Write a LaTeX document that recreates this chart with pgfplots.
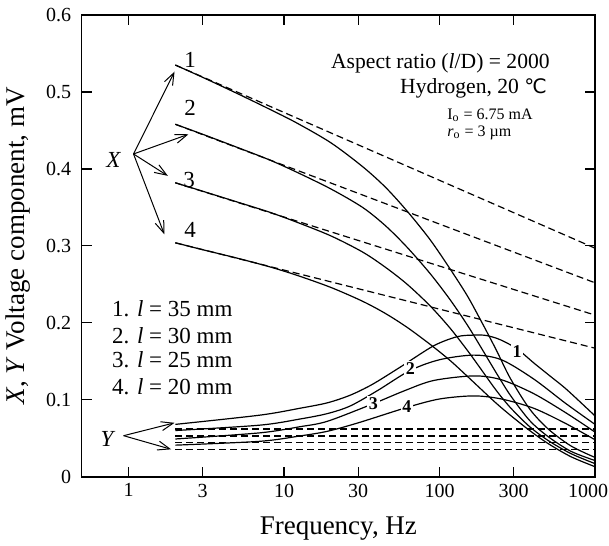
\documentclass[border=0pt]{standalone}
\usepackage{fontspec}
\setmainfont{Liberation Serif}
\newfontfamily\dejavu{DejaVu Sans}
\usepackage{pgfplots}
\pgfplotsset{compat=1.18}
\usetikzlibrary{arrows.meta}
\begin{document}
\begin{tikzpicture}
\begin{axis}[
  at={(0,0)}, anchor=south west,
  scale only axis, width=256.65pt, height=230.85pt,
  xmode=log, xmin=0.5, xmax=1000, ymin=0, ymax=0.6,
  xtick={1,3,10,30,100,300,1000}, xticklabels={1,3,10,30,100,300,\hspace*{-7pt}1000},
  ytick={0,0.1,0.2,0.3,0.4,0.5,0.6}, yticklabels={0,0.1,0.2,0.3,0.4,0.5,0.6},
  xminorticks=false, yminorticks=false,
  tick align=inside, major tick length=5pt,
  axis line style={line width=0.8pt},
  major tick style={line width=0.6pt, black},
  tick label style={font=\fontsize{10}{12}\selectfont},
  yticklabel style={xshift=-1.7pt},
  label style={font=\fontsize{13.5}{16}\selectfont},
  xlabel={Frequency, Hz},
  ylabel={\textit{X}, \textit{Y} Voltage component, mV},
  xlabel style={at={(axis description cs:0.5,0)}, anchor=center, yshift=-25.7pt},
  ylabel style={at={(axis description cs:0,0.5)}, anchor=center, yshift=31.7pt},
  clip=false,
  every axis plot/.append style={line width=0.6pt, black},
  xd/.style={dash pattern=on 3.5pt off 2pt},
]
% X (solid)
\addplot[smooth, tension=0.5] coordinates {(2,0.535)(3,0.519)(5,0.498)(8,0.478)(12,0.460)(20,0.434)(32,0.403)(45,0.376)(62,0.345)(87,0.308)(117,0.270)(150,0.236)(180,0.207)(230,0.166)(285,0.128)(380,0.088)(500,0.062)(700,0.040)(1000,0.025)};
\addplot[smooth, tension=0.5] coordinates {(2,0.458)(3,0.445)(5,0.428)(8,0.412)(12,0.396)(20,0.374)(32,0.350)(45,0.326)(62,0.298)(87,0.264)(117,0.230)(150,0.198)(180,0.172)(230,0.136)(285,0.106)(380,0.073)(500,0.052)(700,0.033)(1000,0.021)};
\addplot[smooth, tension=0.5] coordinates {(2,0.382)(3,0.371)(5,0.357)(8,0.344)(12,0.331)(20,0.313)(32,0.292)(45,0.272)(62,0.250)(87,0.222)(117,0.193)(150,0.165)(180,0.143)(230,0.113)(285,0.090)(380,0.065)(500,0.047)(700,0.030)(1000,0.017)};
\addplot[smooth, tension=0.5] coordinates {(2,0.304)(3,0.295)(5,0.284)(8,0.273)(12,0.262)(20,0.246)(32,0.228)(45,0.212)(62,0.194)(87,0.172)(117,0.151)(150,0.131)(180,0.116)(230,0.096)(285,0.080)(380,0.060)(500,0.043)(700,0.026)(1000,0.013)};
% X (dashed)
\addplot[xd] coordinates {(2,0.535)(1000,0.297)};
\addplot[xd] coordinates {(2,0.458)(1000,0.252)};
\addplot[xd] coordinates {(2,0.382)(1000,0.210)};
\addplot[xd] coordinates {(2,0.304)(1000,0.167)};
% Y (solid)
\addplot[smooth, tension=0.5] coordinates {(2,0.068)(7,0.080)(12.7,0.089)(19,0.096)(26.7,0.106)(37,0.120)(55.5,0.142)(91.5,0.170)(130,0.182)(166,0.184)(200,0.1835)(246,0.178)(316,0.166)(403,0.148)(520,0.130)(660,0.113)(1000,0.079)};
\addplot[smooth, tension=0.5] coordinates {(2,0.060)(7,0.067)(12.7,0.075)(19,0.082)(26.7,0.092)(40,0.112)(64.6,0.138)(100,0.152)(166,0.158)(250,0.152)(403,0.127)(650,0.095)(1000,0.068)};
\addplot[smooth, tension=0.5] coordinates {(2,0.049)(7,0.057)(12.7,0.065)(19,0.072)(37.6,0.095)(60,0.112)(91.5,0.125)(166,0.131)(250,0.126)(403,0.108)(650,0.083)(1000,0.058)};
\addplot[smooth, tension=0.5] coordinates {(2,0.041)(7,0.046)(12.7,0.053)(19,0.059)(30,0.070)(61.7,0.090)(100,0.101)(166,0.105)(250,0.101)(403,0.089)(650,0.069)(1000,0.048)};
% Y (dashed)
\addplot[xd] coordinates {(2,0.062)(1000,0.062)};
\addplot[xd] coordinates {(2,0.053)(1000,0.053)};
\addplot[xd] coordinates {(2,0.044)(1000,0.044)};
\addplot[xd] coordinates {(2,0.035)(1000,0.035)};
% curve labels on Y
\begin{scope}[every node/.style={fill=white, inner sep=0.8pt, font=\fontsize{9}{10}\selectfont\bfseries}]
\node at (axis cs:316,0.163) {1};
\node at (axis cs:64.9,0.140) {2};
\node at (axis cs:37.6,0.0954) {3};
\node at (axis cs:61.7,0.091) {4};
\end{scope}
% curve labels on X
\begin{scope}[every node/.style={font=\fontsize{11.5}{13}\selectfont}]
\node at (axis cs:2.49,0.5416) {1};
\node at (axis cs:2.49,0.479) {2};
\node at (axis cs:2.45,0.386) {3};
\node at (axis cs:2.49,0.321) {4};
\end{scope}
% X arrows
\node[font=\fontsize{11.5}{13}\selectfont\itshape] at (axis cs:0.80,0.4116) {X};
\begin{scope}[line width=0.5pt, -{Straight Barb[length=6pt,width=4.5pt]}]
\draw (axis cs:1.077,0.4194) -- (axis cs:1.977,0.5264);
\draw (axis cs:1.077,0.4194) -- (axis cs:2.43,0.445);
\draw (axis cs:1.077,0.4194) -- (axis cs:1.79,0.391);
\draw (axis cs:1.077,0.4194) -- (axis cs:1.70,0.315);
\end{scope}
% Y arrows
\node[font=\fontsize{11.5}{13}\selectfont\itshape] at (axis cs:0.727,0.0486) {Y};
\begin{scope}[line width=0.5pt, -{Straight Barb[length=6pt,width=4.5pt]}]
\draw (axis cs:0.93,0.0533) -- (axis cs:1.977,0.070);
\draw (axis cs:0.93,0.0533) -- (axis cs:1.88,0.0356);
\end{scope}
% legend text
\begin{scope}[every node/.style={anchor=west, inner sep=0pt, font=\fontsize{11.5}{13}\selectfont}]
\node at (axis cs:0.78,0.2186) {1. \textit{l} = 35 mm};
\node at (axis cs:0.78,0.1838) {2. \textit{l} = 30 mm};
\node at (axis cs:0.78,0.1517) {3. \textit{l} = 25 mm};
\node at (axis cs:0.78,0.1170) {4. \textit{l} = 20 mm};
\end{scope}
% annotations
\node[anchor=east, inner sep=0pt, font=\fontsize{10.8}{13}\selectfont] at (axis cs:514,0.5373) {Aspect ratio (\textit{l}/D) = 2000};
\node[anchor=east, inner sep=0pt, font=\fontsize{10.8}{13}\selectfont] at (axis cs:493,0.5049) {Hydrogen, 20 {\dejavu\fontsize{10}{12}\selectfont ℃}};
\node[anchor=west, inner sep=0pt, font=\fontsize{8}{10}\selectfont] at (axis cs:111.6,0.4700) {I\textsubscript{o} = 6.75 mA};
\node[anchor=west, inner sep=0pt, font=\fontsize{8}{10}\selectfont] at (axis cs:111.6,0.4470) {\textit{r}\textsubscript{o} = 3 µm};
\end{axis}
\pgfresetboundingbox
\path (-40.85pt,-34.15pt) rectangle (263.65pt,238.35pt);
\end{tikzpicture}
\end{document}
